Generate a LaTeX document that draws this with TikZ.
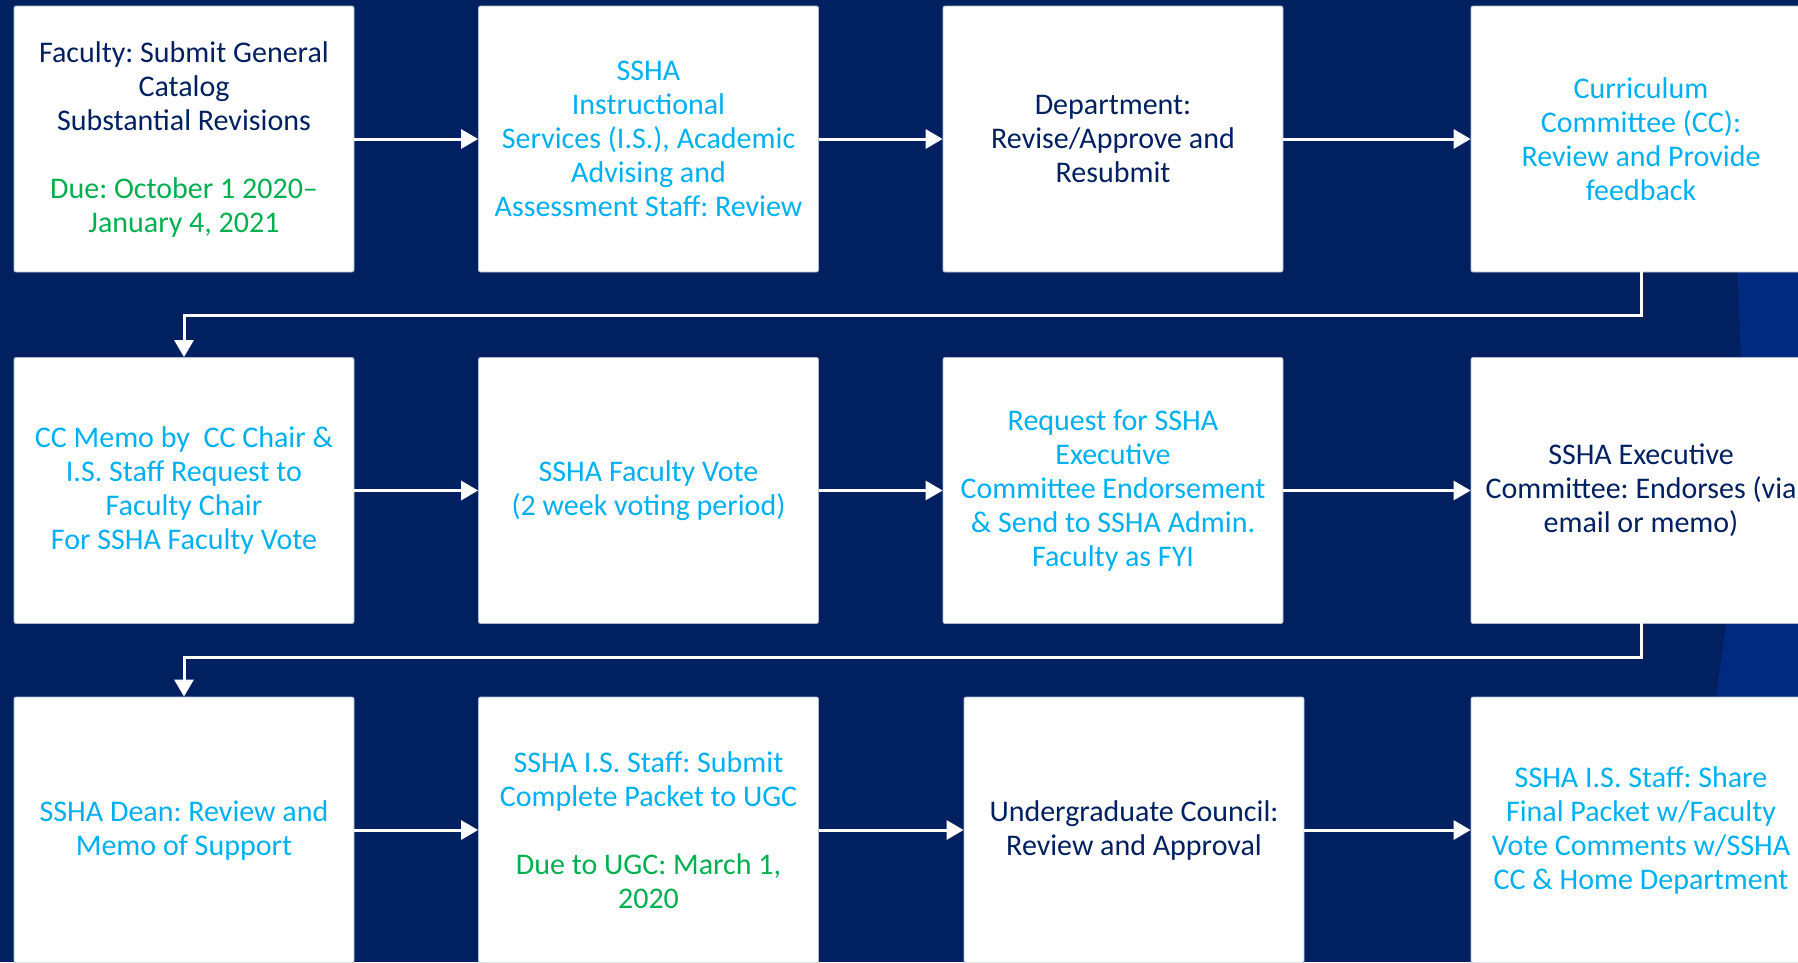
\documentclass[tikz,border=0pt]{standalone}
\usepackage{fontspec}
\setmainfont{Carlito}
\usetikzlibrary{arrows.meta}

\definecolor{navy}{RGB}{0,32,96}
\definecolor{navylight}{RGB}{0,41,128}
\definecolor{darktxt}{RGB}{0,32,96}
\definecolor{cyantxt}{RGB}{0,176,240}
\definecolor{duegreen}{RGB}{0,176,80}
\definecolor{boxedge}{RGB}{176,186,206}

\tikzset{
  stepbox/.style={rectangle, fill=white, draw=boxedge, line width=0.8pt,
    rounded corners=2pt, minimum width=340pt, minimum height=266pt,
    inner sep=4pt, align=center,
    font=\frenchspacing\fontsize{30}{34}\selectfont},
  darkbox/.style={stepbox, text=darktxt},
  cyanbox/.style={stepbox, text=cyantxt},
  flow/.style={draw=white, line width=3pt,
    -{Triangle[length=17pt, width=19pt]}},
  elbow/.style={draw=white, line width=3pt, line cap=rect,
    -{Triangle[length=17pt, width=19pt]}}
}

\begin{document}
\frenchspacing
\begin{tikzpicture}[x=1pt, y=-1pt]
  \useasboundingbox (0,0) rectangle (1798,962);
  \clip (0,0) rectangle (1798,962);

  % slide background and its lighter band at the right edge
  \fill[navy] (0,0) rectangle (1798,962);
  \fill[navylight] (1736,240) -- (1741,357) -- (1726,624) -- (1713,720)
    -- (1798,720) -- (1798,240) -- cycle;

  % row 1
  \node[darkbox] (faculty) at (184,139)
    {Faculty: Submit General\\Catalog\\Substantial Revisions\\[34pt]
     \textcolor{duegreen}{Due: October 1 2020–}\\
     \textcolor{duegreen}{January 4, 2021}};
  \node[cyanbox] (staff) at (648.5,139)
    {SSHA\\Instructional\\Services (I.S.), Academic\\Advising and\\Assessment Staff: Review};
  \node[darkbox] (dept) at (1113,139)
    {Department:\\Revise/Approve and\\Resubmit};
  \node[cyanbox] (cc) at (1641,139)
    {Curriculum\\Committee (CC):\\Review and Provide\\feedback};

  % row 2
  \node[cyanbox] (memo) at (184,490.5)
    {CC Memo by\ \ CC Chair \&\\I.S. Staff Request to\\Faculty Chair\\For SSHA Faculty Vote};
  \node[cyanbox] (vote) at (648.5,490.5)
    {SSHA Faculty Vote\\(2 week voting period)};
  \node[cyanbox] (request) at (1113,490.5)
    {Request for SSHA\\Executive\\Committee Endorsement\\\& Send to SSHA Admin.\\Faculty as FYI};
  \node[darkbox] (exec) at (1641,490.5)
    {SSHA Executive\\Committee: Endorses (via\\email or memo)};

  % row 3
  \node[cyanbox] (dean) at (184,830)
    {SSHA Dean: Review and\\Memo of Support};
  \node[cyanbox] (ugcpacket) at (648.5,830)
    {SSHA I.S. Staff: Submit\\Complete Packet to UGC\\[34pt]
     \textcolor{duegreen}{Due to UGC: March 1,}\\
     \textcolor{duegreen}{2020}};
  \node[darkbox] (council) at (1134,830)
    {Undergraduate Council:\\Review and Approval};
  \node[cyanbox] (share) at (1641,830)
    {SSHA I.S. Staff: Share\\Final Packet w/Faculty\\Vote Comments w/SSHA\\CC \& Home Department};

  % turn points of the row-to-row connectors
  \coordinate (turnA) at (1641,315);
  \coordinate (turnB) at (1641,657);

  % straight connectors within each row
  \draw[flow] (faculty) -- (staff);
  \draw[flow] (staff) -- (dept);
  \draw[flow] (dept) -- (cc);
  \draw[flow] (memo) -- (vote);
  \draw[flow] (vote) -- (request);
  \draw[flow] (request) -- (exec);
  \draw[flow] (dean) -- (ugcpacket);
  \draw[flow] (ugcpacket.east |- dean.east) -- (council.west |- dean.east);
  \draw[flow] (council) -- (share.west |- council.east);

  % elbow connectors down to the next row
  \draw[elbow] (cc.south) -- (turnA) -| (memo.north);
  \draw[elbow] (exec.south) -- (turnB) -| (dean.north);
\end{tikzpicture}
\end{document}
